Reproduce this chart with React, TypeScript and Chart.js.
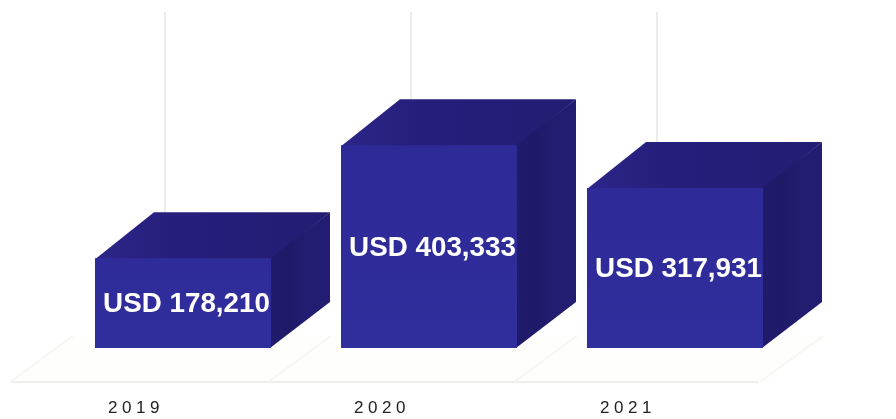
import React, { useEffect, useRef } from "react";
import { Chart, registerables } from "chart.js";

Chart.register(...registerables);

const years = ["2019", "2020", "2021"];
const revenue = [178210, 403333, 317931];
const currency = "USD";

const DEPTH_X = 59;
const DEPTH_Y = 46;
const WIDTH = 896;
const HEIGHT = 419;

function linear(ctx: CanvasRenderingContext2D, x0: number, y0: number, x1: number, y1: number, stops: string[]) {
  const g = ctx.createLinearGradient(x0, y0, x1, y1);
  stops.forEach((c, i) => g.addColorStop(i / (stops.length - 1), c));
  return g;
}

// Floor and wall lines behind the boxes, positioned from the category scale.
const stagePlugin = {
  id: "stage",
  beforeDraw(chart: any) {
    const { ctx, scales } = chart;
    const { bottom, top } = chart.chartArea;
    const x = scales.x;
    const floorFront = bottom + 34;
    const meta = chart.getDatasetMeta(0);
    ctx.save();
    ctx.fillStyle = "#ffffff";
    ctx.fillRect(0, 0, chart.width, chart.height);

    // floor plane
    const lastRight = meta.data[meta.data.length - 1].x + 88;
    ctx.fillStyle = "#fefefc";
    ctx.beginPath();
    ctx.moveTo(10, floorFront);
    ctx.lineTo(10 + DEPTH_X + 4, floorFront - DEPTH_Y);
    ctx.lineTo(lastRight + DEPTH_X + 4, floorFront - DEPTH_Y);
    ctx.lineTo(lastRight - 4, floorFront);
    ctx.closePath();
    ctx.fill();

    // wall rules
    ctx.strokeStyle = "#ececec";
    ctx.lineWidth = 2;
    years.forEach((_, i) => {
      const px = x.getPixelForValue(i) - 18;
      ctx.beginPath();
      ctx.moveTo(px, top);
      ctx.lineTo(px, bottom - DEPTH_Y);
      ctx.stroke();
    });

    // floor rules
    ctx.strokeStyle = "#eeeeea";
    ctx.lineWidth = 2;
    ctx.beginPath();
    ctx.moveTo(10, floorFront);
    ctx.lineTo(lastRight - 4, floorFront);
    ctx.stroke();
    ctx.strokeStyle = "#f6f6f3";
    [10, ...meta.data.map((b: any) => b.x + 85)].forEach((fx: number) => {
      ctx.beginPath();
      ctx.moveTo(fx, floorFront);
      ctx.lineTo(fx + DEPTH_X + 4, floorFront - DEPTH_Y);
      ctx.stroke();
    });
    ctx.restore();

    ctx.letterSpacing = "4.6px";
  },
  // Top and side faces of each box, extruded from the bar rectangle.
  beforeDatasetsDraw(chart: any) {
    const { ctx } = chart;
    const meta = chart.getDatasetMeta(0);
    ctx.save();
    meta.data.forEach((bar: any) => {
      const half = bar.width / 2;
      const l = bar.x - half;
      const r = bar.x + half;
      const t = bar.y;
      const b = bar.base;

      ctx.fillStyle = linear(ctx, l, t, r + DEPTH_X, t, ["#2c2689", "#251e7b", "#251e78", "#221d72"]);
      ctx.beginPath();
      ctx.moveTo(l, t + 1);
      ctx.lineTo(l + DEPTH_X, t - DEPTH_Y);
      ctx.lineTo(r + DEPTH_X, t - DEPTH_Y);
      ctx.lineTo(r, t + 1);
      ctx.closePath();
      ctx.fill();

      ctx.fillStyle = linear(ctx, r - 1, t, r + DEPTH_X, t, ["#1f1a6a", "#1f1a68", "#221d70", "#221d72"]);
      ctx.beginPath();
      ctx.moveTo(r - 1, t);
      ctx.lineTo(r + DEPTH_X, t - DEPTH_Y);
      ctx.lineTo(r + DEPTH_X, b - DEPTH_Y);
      ctx.lineTo(r - 1, b);
      ctx.closePath();
      ctx.fill();
    });
    ctx.restore();
  },
  afterDatasetsDraw(chart: any) {
    const { ctx } = chart;
    const meta = chart.getDatasetMeta(0);
    ctx.save();
    ctx.letterSpacing = "0px";
    ctx.fillStyle = "#ffffff";
    ctx.font = 'bold 27.8px "Liberation Sans", Arial, sans-serif';
    ctx.textAlign = "center";
    ctx.textBaseline = "middle";
    meta.data.forEach((bar: any, i: number) => {
      const label = `${currency} ${revenue[i].toLocaleString("en-US")}`;
      ctx.fillText(label, bar.x + 3.5, bar.base - (bar.base - bar.y) * 0.49);
    });
    ctx.restore();
  },
};

export default function App() {
  const ref = useRef<HTMLCanvasElement>(null);

  useEffect(() => {
    const canvas = ref.current;
    if (!canvas) return;
    const chart = new Chart(canvas, {
      type: "bar",
      plugins: [stagePlugin],
      data: {
        labels: years,
        datasets: [
          {
            data: revenue,
            barPercentage: 176 / 246,
            categoryPercentage: 1,
            backgroundColor: (c: any) => {
              const a = c.chart.chartArea;
              if (!a) return "#2d2a92";
              const g = c.chart.ctx.createLinearGradient(0, a.top, 0, a.bottom);
              g.addColorStop(0, "#2c2895");
              g.addColorStop(1, "#302d9c");
              return g;
            },
            borderWidth: 0,
          },
        ],
      },
      options: {
        responsive: false,
        animation: false,
        layout: { padding: { left: 60, right: 98, top: 12, bottom: 6 } },
        plugins: { legend: { display: false }, tooltip: { enabled: false } },
        scales: {
          x: {
            afterFit: (s: any) => {
              s.height = 65;
            },
            grid: { display: false, drawTicks: false },
            border: { display: false },
            ticks: {
              color: "#222222",
              padding: 50,
              labelOffset: -47,
              maxRotation: 0,
              font: { family: '"Liberation Sans", Arial, sans-serif', size: 17 },
            },
          },
          y: { display: false, min: 0, max: 668000 },
        },
      },
    });
    return () => chart.destroy();
  }, []);

  return (
    <div style={{ position: "fixed", left: 0, top: 0, width: WIDTH, height: HEIGHT, background: "#fff" }}>
      <canvas ref={ref} width={WIDTH} height={HEIGHT} style={{ display: "block" }} />
    </div>
  );
}
